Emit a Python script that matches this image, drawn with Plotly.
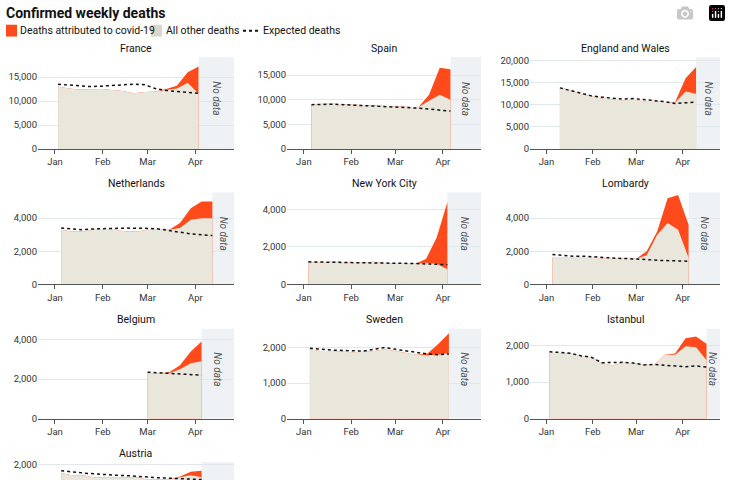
import plotly.graph_objects as go
import pandas as pd

regions = ["France", "Spain", "England and Wales", "Netherlands", "New York City",
           "Lombardy", "Belgium", "Sweden", "Istanbul", "Austria"]
start_dates = ["2020-01-03", "2020-01-06", "2020-01-10", "2020-01-05", "2020-01-04",
               "2020-01-05", "2020-03-01", "2020-01-05", "2020-01-03", "2020-01-05"]

other_fr = [13000,12600,12400,12400,12500,12300,12100,11600,11900,12000,12300,12600,13800,11500]
covid_fr = [0,0,0,0,0,0,0,0,0,0,200,600,2200,5700]
exp_fr = [13500,13300,13200,13000,13100,13200,13300,13500,13400,12600,12200,12000,11800,11600]

other_es = [9000,9200,9200,9100,9000,9000,8900,8700,8600,8500,8500,9800,11000,10000]
covid_es = [0,0,0,0,0,0,0,0,0,0,0,1200,5500,6200]
exp_es = [9000,9100,9100,9000,8900,8900,8800,8600,8500,8400,8300,8100,7900,7700]

other_ew = [14000,13200,12400,11900,11400,11200,11000,11200,10800,10900,10600,10500,13000,12500]
covid_ew = [0,0,0,0,0,0,0,0,0,0,0,100,3000,6000]
exp_ew = [13800,13200,12500,12000,11700,11500,11300,11400,11200,11000,10700,10300,10400,10600]

other_nl = [3300,3200,3200,3300,3300,3300,3200,3200,3300,3300,3300,3400,3900,4000,4000]
covid_nl = [0,0,0,0,0,0,0,0,0,0,0,300,700,1000,1000]
exp_nl = [3400,3350,3300,3350,3350,3380,3400,3400,3380,3350,3250,3150,3050,3000,2950]

other_ny = [1200,1150,1200,1200,1150,1150,1200,1150,1100,1100,1100,1150,1100,800]
covid_ny = [0,0,0,0,0,0,0,0,0,0,0,200,1400,3600]
exp_ny = [1200,1200,1180,1170,1160,1150,1150,1140,1130,1120,1110,1090,1070,1050]

other_lo = [1600,1600,1600,1600,1600,1550,1550,1550,1550,1750,3000,3700,3300,1600]
covid_lo = [0,0,0,0,0,0,0,0,0,250,200,1500,2100,2000]
exp_lo = [1800,1750,1700,1700,1650,1600,1580,1560,1550,1500,1450,1420,1400,1400]

other_be = [2300,2300,2300,2500,2800,2900]
covid_be = [0,0,50,200,600,1000]
exp_be = [2350,2320,2300,2270,2240,2200]

other_se = [1950,1900,1900,1880,1870,1880,1900,1950,1900,1850,1800,1780,1800,1850]
covid_se = [0,0,0,0,0,0,0,0,0,0,0,50,300,550]
exp_se = [1980,1950,1930,1920,1900,1900,1950,2000,1950,1900,1850,1820,1800,1820]

other_is = [1800,1780,1780,1720,1680,1520,1450,1530,1520,1480,1470,1750,1750,1980,1950,1600]
covid_is = [0,0,0,0,0,0,0,0,0,0,0,0,30,220,300,450]
exp_is = [1830,1800,1790,1720,1680,1530,1540,1540,1520,1470,1480,1470,1440,1420,1440,1410]

other_at = [1800,1750,1750,1700,1700,1700,1700,1700,1650,1650,1650,1700,1750,1700]
covid_at = [0,0,0,0,0,0,0,0,0,0,0,20,80,150]
exp_at = [1850,1820,1800,1780,1760,1750,1740,1720,1700,1690,1680,1670,1660,1650]

others = [other_fr, other_es, other_ew, other_nl, other_ny, other_lo, other_be, other_se, other_is, other_at]
covids = [covid_fr, covid_es, covid_ew, covid_nl, covid_ny, covid_lo, covid_be, covid_se, covid_is, covid_at]
expected = [exp_fr, exp_es, exp_ew, exp_nl, exp_ny, exp_lo, exp_be, exp_se, exp_is, exp_at]
y_max = [19100, 18600, 20700, 5550, 4900, 5550, 4550, 2530, 2460, 2050]
y_dtick = [5000, 5000, 5000, 2000, 2000, 2000, 2000, 1000, 1000, 1000]

RED = "#ff4a1c"
BEIGE = "#e9e7dc"
SHADE = "#eef2f5"
W, H = 731, 620
col_px = [(38, 234), (287, 481), (530, 720)]
row_px = [(55, 148), (192, 285), (330, 421), (465, 556)]
x_range = ["2019-12-21", "2020-04-26"]
FONT = "Roboto"

fig = go.Figure()
layout = dict(width=W, height=H, autosize=False, margin=dict(l=0, r=0, t=0, b=0),
              paper_bgcolor="white", plot_bgcolor="white", showlegend=False,
              font=dict(family=FONT, size=10, color="#333"))
shapes, annotations = [], []

for i, name in enumerate(regions):
    r, c = divmod(i, 3)
    ax = "" if i == 0 else str(i + 1)
    x0, x1 = col_px[c]
    y0, y1 = row_px[r]
    dates = pd.date_range(start_dates[i], periods=len(others[i]), freq="7D")
    total = [o + v for o, v in zip(others[i], covids[i])]
    xa, ya = "x" + ax, "y" + ax
    fig.add_trace(go.Scatter(x=dates, y=total, fill="tozeroy", fillcolor=RED, mode="lines",
                             line=dict(width=0, color=RED), xaxis=xa, yaxis=ya, hoverinfo="skip"))
    fig.add_trace(go.Scatter(x=dates, y=others[i], fill="tozeroy", fillcolor=BEIGE, mode="lines",
                             line=dict(width=0, color=BEIGE), xaxis=xa, yaxis=ya))
    fig.add_trace(go.Scatter(x=dates, y=expected[i], mode="lines",
                             line=dict(width=1.5, color="#111", dash="dot"), xaxis=xa, yaxis=ya))
    layout["xaxis" + ax] = dict(domain=[x0 / W, x1 / W], anchor=ya, range=x_range, type="date",
                                tickvals=["2020-01-01", "2020-02-01", "2020-03-01", "2020-04-01"],
                                ticktext=["Jan", "Feb", "Mar", "Apr"], ticks="outside", ticklen=4,
                                tickcolor="#555", showline=True, linecolor="#555", linewidth=1,
                                showgrid=False, zeroline=False, tickfont=dict(size=9.5, color="#333"),
                                fixedrange=True)
    layout["yaxis" + ax] = dict(domain=[1 - y1 / H, 1 - y0 / H], anchor=xa, range=[0, y_max[i]],
                                dtick=y_dtick[i], tickformat=",d", showgrid=True, gridcolor="#e1e7ec",
                                zeroline=False, showline=False, ticks="", tickfont=dict(size=9.5, color="#333"),
                                fixedrange=True)
    last = dates[-1]
    shapes.append(dict(type="rect", xref=xa, yref=ya + " domain", x0=last, x1=x_range[1], y0=0, y1=1,
                       fillcolor=SHADE, line=dict(width=0), layer="below"))
    mid = last + (pd.Timestamp(x_range[1]) - last) / 2
    annotations.append(dict(xref=xa, yref=ya + " domain", x=mid, y=0.55, text="<i>No data</i>",
                            showarrow=False, textangle=90, font=dict(size=10, color="#555")))
    annotations.append(dict(xref="paper", yref="paper", x=(x0 + x1) / 2 / W, y=1 - (y0 - 9) / H,
                            text=name, showarrow=False, font=dict(size=10.5, color="#111"),
                            xanchor="center", yanchor="middle"))

annotations.append(dict(xref="paper", yref="paper", x=4 / W, y=1 - 10 / H, text="<b>Confirmed weekly deaths</b>",
                        showarrow=False, xanchor="left", yanchor="middle", font=dict(size=14, color="#111")))
legend_items = [("Deaths attributed to covid-19", 18), ("All other deaths", 164), ("Expected deaths", 261)]
for txt, xp in legend_items:
    annotations.append(dict(xref="paper", yref="paper", x=xp / W, y=1 - 28 / H, text=txt, showarrow=False,
                            xanchor="left", yanchor="middle", font=dict(size=10.5, color="#111")))
shapes.append(dict(type="rect", xref="paper", yref="paper", x0=6 / W, x1=17 / W, y0=1 - 34 / H, y1=1 - 22 / H,
                   fillcolor=RED, line=dict(width=0)))
shapes.append(dict(type="rect", xref="paper", yref="paper", x0=151 / W, x1=162 / W, y0=1 - 34 / H, y1=1 - 22 / H,
                   fillcolor="#d9d7cb", line=dict(width=0)))
shapes.append(dict(type="line", xref="paper", yref="paper", x0=243 / W, x1=259 / W, y0=1 - 28 / H, y1=1 - 28 / H,
                   line=dict(color="#111", width=2, dash="dot")))
layout["shapes"] = shapes
layout["annotations"] = annotations
fig.update_layout(**layout)
fig.write_html("out.html", post_script="document.body.style.margin='0';")
